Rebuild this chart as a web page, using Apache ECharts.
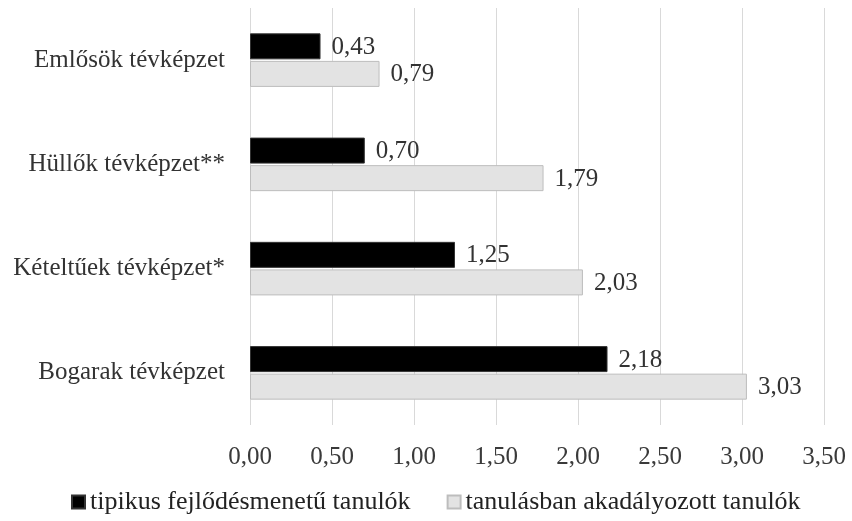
<!DOCTYPE html>
<html><head><meta charset="utf-8">
<script src="https://cdn.jsdelivr.net/npm/echarts@6/dist/echarts.min.js"></script>
<style>html,body{margin:0;padding:0;background:#fff}#c{width:852px;height:521px}</style>
</head><body><div id="c"></div>
<script>
var categories = ['Emlősök tévképzet', 'Hüllők tévképzet**', 'Kételtűek tévképzet*', 'Bogarak tévképzet'];
var typical = [0.43, 0.70, 1.25, 2.18];
var impaired = [0.79, 1.79, 2.03, 3.03];
var seriesNames = ['tipikus fejlődésmenetű tanulók', 'tanulásban akadályozott tanulók'];
var F = '"Liberation Serif", "DejaVu Serif", serif';
function fmt(v){ return v.toFixed(2).replace('.', ','); }
var chart = echarts.init(document.getElementById('c'));
chart.setOption({
  animation: false,
  textStyle: {fontFamily: F},
  grid: {left: 250, right: 28, top: 8, bottom: 96, containLabel: false},
  xAxis: {
    type: 'value', min: 0, max: 3.5, interval: 0.5,
    axisLine: {show: false}, axisTick: {show: false},
    splitLine: {show: true, lineStyle: {color: '#d9d9d9', width: 1}},
    axisLabel: {formatter: fmt, fontFamily: F, fontSize: 25, color: '#3a3a3a', margin: 20}
  },
  yAxis: {
    type: 'category', data: categories, inverse: true,
    axisLine: {show: false}, axisTick: {show: false},
    axisLabel: {fontFamily: F, fontSize: 25, color: '#333', margin: 25}
  },
  legend: {
    bottom: 1, left: 66, itemWidth: 13, itemHeight: 13, itemGap: 36, icon: 'rect',
    textStyle: {fontFamily: F, fontSize: 26, color: '#222'},
    data: seriesNames
  },
  series: [
    {name: seriesNames[0], type: 'bar', data: typical, barWidth: 26, barGap: '6%',
     itemStyle: {color: '#000', borderColor: '#333', borderWidth: 1},
     label: {show: true, position: 'right', distance: 11, formatter: function(p){return fmt(p.value);},
             fontFamily: F, fontSize: 25, color: '#333', offset: [0, 1]}},
    {name: seriesNames[1], type: 'bar', data: impaired, barWidth: 26,
     itemStyle: {color: '#e3e3e3', borderColor: '#bdbdbd', borderWidth: 1},
     label: {show: true, position: 'right', distance: 11, formatter: function(p){return fmt(p.value);},
             fontFamily: F, fontSize: 25, color: '#333', offset: [0, 1]}}
  ]
});
</script></body></html>
